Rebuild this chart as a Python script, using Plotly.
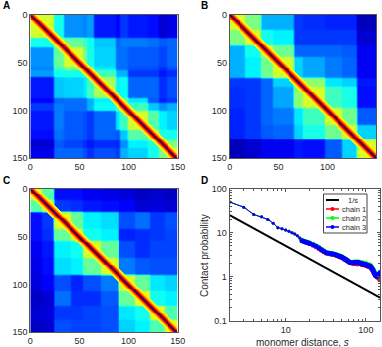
import numpy as np
import plotly.graph_objects as go

W = 382
H = 347

# block edges and block levels (upper triangle, row by row)
edges_a = [0, 24, 34, 54, 58, 65, 87, 92, 100, 120, 131, 139, 150]
levels_a = [
    [.60, .36, .24, .23, .25, .13, .11, .16, .13, .12, .07, .09],
    [.55, .47, .42, .36, .29, .20, .22, .22, .21, .19, .20],
    [.60, .50, .37, .30, .21, .21, .19, .19, .17, .20],
    [.62, .48, .32, .21, .21, .18, .18, .15, .18],
    [.60, .42, .27, .27, .16, .16, .13, .15],
    [.55, .33, .35, .20, .20, .15, .18],
    [.60, .48, .32, .19, .14, .16],
    [.60, .42, .29, .24, .27],
    [.60, .45, .33, .30],
    [.62, .38, .36],
    [.62, .50],
    [.60],
]
edges_b = [0, 16, 32, 44, 66, 75, 97, 115, 130, 150]
levels_b = [
    [.60, .50, .27, .27, .16, .15, .14, .14, .05],
    [.60, .36, .33, .16, .16, .16, .16, .07],
    [.60, .48, .20, .20, .20, .19, .10],
    [.60, .30, .26, .22, .20, .10],
    [.60, .52, .32, .30, .13],
    [.60, .42, .37, .12],
    [.60, .48, .19],
    [.60, .30],
    [.60],
]
edges_c = [0, 12, 24, 42, 54, 72, 90, 107, 122, 137, 150]
levels_c = [
    [.60, .45, .12, .12, .10, .09, .08, .06, .07, .06],
    [.60, .16, .15, .13, .12, .11, .07, .08, .07],
    [.62, .47, .33, .31, .18, .21, .16, .18],
    [.62, .36, .33, .14, .15, .16, .17],
    [.60, .47, .18, .15, .17, .17],
    [.60, .22, .19, .18, .18],
    [.60, .47, .32, .30],
    [.62, .36, .33],
    [.62, .44],
    [.62],
]
# level next to the diagonal, by distance from it
diag_profile = [.03, .98, .90, .83, .76, .70, .66, .62]

s_values = [2, 3, 4, 5, 6, 7, 8, 9, 10, 11, 12, 13, 14, 15, 16, 17, 18, 19, 20,
            22, 24, 26, 28, 30, 32, 34, 36, 38, 40, 42, 44, 46, 48, 50, 52, 54, 56, 58, 60,
            63, 66, 69, 72, 75, 78, 81, 84, 87, 90, 93, 96, 99, 102, 105, 108, 111, 114,
            117, 120, 123, 126, 129, 132, 135, 138, 141, 144, 147, 150]
chain1 = [50, 38, 26, 23, 20, 16.5, 13, 12.3, 11.5, 10.8, 10, 9.3, 8.5, 7.6, 6.6, 6.3, 6.1, 5.9, 5.6,
          5.2, 4.8, 4.4, 4.0, 3.7, 3.45, 3.35, 3.3, 3.25, 3.2, 3.1, 3.0, 2.9, 2.8, 2.75, 2.65, 2.5, 2.4, 2.3, 2.25,
          2.1, 2.05, 2.05, 2.0, 2.0, 1.95, 2.0, 2.0, 1.95, 1.9, 1.9, 1.85, 1.85, 1.8, 1.75, 1.7, 1.7, 1.65,
          1.55, 1.45, 1.35, 1.25, 1.15, 1.1, 1.05, 1.0, 0.98, 0.95, 0.9, 0.85]
chain2 = [50, 38, 26, 23, 20, 16.5, 13, 12.3, 11.5, 10.8, 10, 9.3, 8.5, 7.6, 6.7, 6.4, 6.2, 6.0, 5.8,
          5.4, 5.0, 4.6, 4.2, 3.85, 3.55, 3.45, 3.4, 3.35, 3.3, 3.2, 3.1, 3.0, 2.95, 2.85, 2.7, 2.6, 2.5, 2.35, 2.3,
          2.15, 2.1, 2.1, 2.15, 2.15, 2.15, 2.15, 2.1, 2.1, 2.05, 2.05, 2.0, 2.0, 1.95, 1.9, 1.85, 1.85, 1.8,
          1.7, 1.6, 1.5, 1.35, 1.25, 1.15, 1.15, 1.1, 1.1, 1.05, 1.0, 1.0]
chain3 = [50, 38, 26, 23, 20, 16.5, 13, 12.3, 11.5, 10.8, 10, 9.3, 8.5, 7.6, 6.6, 6.3, 6.1, 5.9, 5.7,
          5.3, 4.9, 4.5, 4.1, 3.8, 3.5, 3.4, 3.35, 3.3, 3.25, 3.15, 3.05, 2.95, 2.85, 2.8, 2.65, 2.55, 2.45, 2.35, 2.25,
          2.1, 2.1, 2.05, 2.1, 2.1, 2.1, 2.1, 2.05, 2.0, 1.95, 1.95, 1.9, 1.9, 1.85, 1.8, 1.75, 1.75, 1.7,
          1.6, 1.5, 1.4, 1.25, 1.15, 1.05, 1.05, 1.0, 1.05, 1.1, 1.15, 1.25]
s_ref = [2, 150]
p_ref = [25, 0.333]

chain_colors = ["#ff0000", "#00ff00", "#0000ff"]
chain_names = ["chain 1", "chain 2", "chain 3"]
jet = [[0, "#00007f"], [.11, "#0000ff"], [.34, "#00ffff"], [.5, "#7fff7f"],
       [.65, "#ffff00"], [.89, "#ff0000"], [1, "#7f0000"]]

FONT = "Liberation Sans"
TEXT = "#2a2a2a"


def soften(z):
    # the source picture has soft block edges
    kernel = np.array([1, 2, 1]) / 4
    for axis in (0, 1):
        padded = np.pad(z, [(1, 1) if a == axis else (0, 0) for a in (0, 1)], mode="edge")
        z = np.apply_along_axis(lambda v: np.convolve(v, kernel, mode="valid"), axis, padded)
    return z


def build_map(edges, levels):
    z = np.zeros((150, 150))
    for i, row in enumerate(levels):
        for k, val in enumerate(row):
            j = i + k
            z[edges[i]:edges[i + 1], edges[j]:edges[j + 1]] = val
            z[edges[j]:edges[j + 1], edges[i]:edges[i + 1]] = val
    z = soften(z)
    for d, val in enumerate(diag_profile):
        for i in range(150 - d):
            z[i, i + d] = val if d < 2 else max(val, z[i, i + d])
            z[i + d, i] = z[i, i + d]
    return z


def px(x):
    return x / W


def py(y):
    return 1 - y / H


fig = go.Figure()

panels = [
    ("", "", edges_a, levels_a, (30.3, 177.7), (14.7, 158.3)),
    ("2", "2", edges_b, levels_b, (229.7, 376.3), (14.7, 158.3)),
    ("3", "3", edges_c, levels_c, (30.3, 177.7), (188.7, 332.3)),
]
cells = np.arange(150) + 0.5
for ax, ay, edges, levels, xdom, ydom in panels:
    fig.add_trace(go.Heatmap(z=build_map(edges, levels), x=cells, y=cells, colorscale=jet,
                             zmin=0, zmax=1, showscale=False,
                             xaxis="x" + ax, yaxis="y" + ay))
    fig.update_layout({
        "xaxis" + ax: dict(domain=[px(xdom[0]), px(xdom[1])], range=[0, 150], tickvals=[0, 50, 100, 150],
                           anchor="y" + ay, ticks="", showgrid=False, zeroline=False, mirror=True,
                           showline=True, linecolor="#555555", linewidth=1, automargin=False,
                           tickfont=dict(family=FONT, size=9, color=TEXT)),
        "yaxis" + ay: dict(domain=[py(ydom[1]), py(ydom[0])], range=[150, 0], tickvals=[0, 50, 100, 150],
                           anchor="x" + ax, ticks="", showgrid=False, zeroline=False, mirror=True,
                           showline=True, linecolor="#555555", linewidth=1, automargin=False,
                           tickfont=dict(family=FONT, size=9, color=TEXT)),
    })

fig.add_trace(go.Scatter(x=s_ref, y=p_ref, mode="lines", line=dict(color="black", width=2),
                         name="1/s", xaxis="x4", yaxis="y4"))
marker_sizes = [3 if s < 16 else 5 for s in s_values]
for vals, col, name in zip([chain1, chain2, chain3], chain_colors, chain_names):
    fig.add_trace(go.Scatter(x=s_values, y=vals, mode="lines+markers", line=dict(color=col, width=1),
                             marker=dict(color=col, size=marker_sizes, opacity=1, line=dict(width=0)),
                             name=name, xaxis="x4", yaxis="y4"))

minor_x = [3, 4, 5, 6, 7, 8, 9, 20, 30, 40, 50, 60, 70, 80, 90]
minor_y = [.2, .3, .4, .5, .6, .7, .8, .9, 2, 3, 4, 5, 6, 7, 8, 9, 20, 30, 40, 50, 60, 70, 80, 90]
fig.update_layout(
    width=W, height=H, autosize=False, showlegend=False,
    margin=dict(l=0, r=0, t=0, b=0), paper_bgcolor="white", plot_bgcolor="white",
    xaxis4=dict(domain=[px(229.6), px(380)], type="log", range=[np.log10(2), np.log10(150)], anchor="y4",
                tickvals=[10, 100], ticktext=["10", "100"], ticks="inside", ticklen=3, tickcolor="#555555",
                minor=dict(tickvals=minor_x, ticks="inside", ticklen=2, tickcolor="#555555"),
                showgrid=False, zeroline=False, mirror="allticks", showline=True, linecolor="#555555", linewidth=1,
                tickfont=dict(family=FONT, size=9, color=TEXT), automargin=False),
    yaxis4=dict(domain=[py(320.7), py(188.7)], type="log", range=[-1, 2], anchor="x4",
                tickvals=[.1, 1, 10, 100], ticktext=["0.1", "1", "10", "100"], ticks="inside", ticklen=3,
                tickcolor="#555555",
                minor=dict(tickvals=minor_y, ticks="inside", ticklen=2, tickcolor="#555555"),
                showgrid=False, zeroline=False, mirror="allticks", showline=True, linecolor="#555555", linewidth=1,
                tickfont=dict(family=FONT, size=9, color=TEXT), automargin=False),
)

# axis titles of panel D and the panel letters
fig.add_annotation(text="monomer distance, <i>s</i>", x=px(302.7), y=py(342), xref="paper", yref="paper",
                   xanchor="center", yanchor="middle", showarrow=False,
                   font=dict(family=FONT, size=10, color=TEXT))
fig.add_annotation(text="Contact probability", x=px(205), y=py(256), xref="paper", yref="paper",
                   xanchor="center", yanchor="middle", textangle=-90, showarrow=False,
                   font=dict(family=FONT, size=10, color=TEXT))
for letter, x, y in [("A", 1, 6), ("B", 199, 6), ("C", 1, 180), ("D", 199, 180)]:
    fig.add_annotation(text="<b>%s</b>" % letter, x=px(x), y=py(y), xref="paper", yref="paper",
                       xanchor="left", yanchor="middle", showarrow=False,
                       font=dict(family=FONT, size=10, color="black"))

# legend box, drawn by hand because the native one cannot be this narrow
fig.add_shape(type="rect", xref="paper", yref="paper", x0=px(323.5), x1=px(367), y0=py(233), y1=py(194),
              line=dict(color="#444444", width=1), fillcolor="white", layer="above")
rows = [("1/s", "black", 200), ("chain 1", chain_colors[0], 209), ("chain 2", chain_colors[1], 218),
        ("chain 3", chain_colors[2], 227)]
for label, col, y in rows:
    fig.add_shape(type="line", xref="paper", yref="paper", x0=px(326), x1=px(339), y0=py(y), y1=py(y),
                  line=dict(color=col, width=2 if col == "black" else 1.5), layer="above")
    if col != "black":
        fig.add_shape(type="circle", xref="paper", yref="paper", x0=px(330.5), x1=px(334.5),
                      y0=py(y + 2), y1=py(y - 2), fillcolor=col, line=dict(color=col, width=0), layer="above")
    fig.add_annotation(text=label, x=px(346 if col == "black" else 339.5), y=py(y), xref="paper", yref="paper",
                       xanchor="left", yanchor="middle", showarrow=False,
                       font=dict(family=FONT, size=7.5, color=TEXT))

fig.write_html("out.html", config={"displayModeBar": False},
               post_script="document.body.style.margin='0';")
